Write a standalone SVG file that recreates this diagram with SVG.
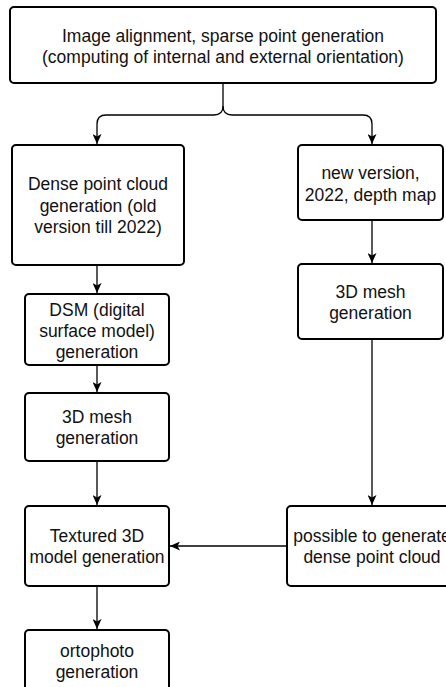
<svg xmlns="http://www.w3.org/2000/svg" width="446" height="687" viewBox="0 0 446 687">
<style>
.box{fill:#fff;stroke:#000;stroke-width:2}
.t{font-family:"Liberation Sans",Arial,sans-serif;font-size:17.5px;fill:#111;text-anchor:middle}
.c{fill:none;stroke:#000;stroke-width:1.3}
</style>
<defs>
<marker id="arr" viewBox="0 0 10 9" markerUnits="userSpaceOnUse" markerWidth="10" markerHeight="9" refX="10" refY="4.5" orient="auto">
<path d="M0,0 L10,4.5 L0,9 L2.5,4.5 Z" fill="#000"/>
</marker>
</defs>
<rect width="446" height="687" fill="#fff"/>
<g id="connectors">
<path class="c" d="M223,83 L223,106 Q223,115 214,115 L106,115 Q97,115 97,124 L97,144" marker-end="url(#arr)"/>
<path class="c" d="M223,106 Q223,115 232,115 L363,115 Q372,115 372,124 L372,144" marker-end="url(#arr)"/>
<path class="c" d="M97,265 L97,293" marker-end="url(#arr)"/>
<path class="c" d="M97,365 L97,392" marker-end="url(#arr)"/>
<path class="c" d="M97,461 L97,505" marker-end="url(#arr)"/>
<path class="c" d="M97,586 L97,629" marker-end="url(#arr)"/>
<path class="c" d="M372,220 L372,263" marker-end="url(#arr)"/>
<path class="c" d="M372,339 L372,505" marker-end="url(#arr)"/>
<path class="c" d="M287,546 L170,546" marker-end="url(#arr)"/>
</g>
<g id="n-align">
<rect class="box" x="10" y="7" width="426" height="76" rx="4"/>
<text class="t" x="223" y="42">Image alignment, sparse point generation</text>
<text class="t" x="223" y="63">(computing of internal and external orientation)</text>
</g>
<g id="n-dense">
<rect class="box" x="12" y="145" width="172" height="120" rx="4"/>
<text class="t" x="98" y="190">Dense point cloud</text>
<text class="t" x="98" y="212">generation (old</text>
<text class="t" x="98" y="233">version till 2022)</text>
</g>
<g id="n-newver">
<rect class="box" x="298" y="145" width="145" height="75" rx="4"/>
<text class="t" x="370.5" y="179">new version,</text>
<text class="t" x="370.5" y="200.5">2022, depth map</text>
</g>
<g id="n-dsm">
<rect class="box" x="25" y="294" width="144" height="71" rx="4"/>
<text class="t" x="97" y="316">DSM (digital</text>
<text class="t" x="97" y="337">surface model)</text>
<text class="t" x="97" y="358">generation</text>
</g>
<g id="n-mesh-left">
<rect class="box" x="25" y="393" width="144" height="68" rx="4"/>
<text class="t" x="97" y="423">3D mesh</text>
<text class="t" x="97" y="444">generation</text>
</g>
<g id="n-mesh-right">
<rect class="box" x="298" y="264" width="145" height="75" rx="4"/>
<text class="t" x="370.5" y="298">3D mesh</text>
<text class="t" x="370.5" y="319">generation</text>
</g>
<g id="n-textured">
<rect class="box" x="25" y="506" width="144" height="80" rx="4"/>
<text class="t" x="97" y="542">Textured 3D</text>
<text class="t" x="97" y="563">model generation</text>
</g>
<g id="n-possible">
<rect class="box" x="287" y="506" width="170" height="80" rx="4"/>
<text class="t" x="372" y="542">possible to generate</text>
<text class="t" x="372" y="563">dense point cloud</text>
</g>
<g id="n-ortho">
<rect class="box" x="25" y="630" width="144" height="62" rx="4"/>
<text class="t" x="97" y="657">ortophoto</text>
<text class="t" x="97" y="678">generation</text>
</g>
</svg>
